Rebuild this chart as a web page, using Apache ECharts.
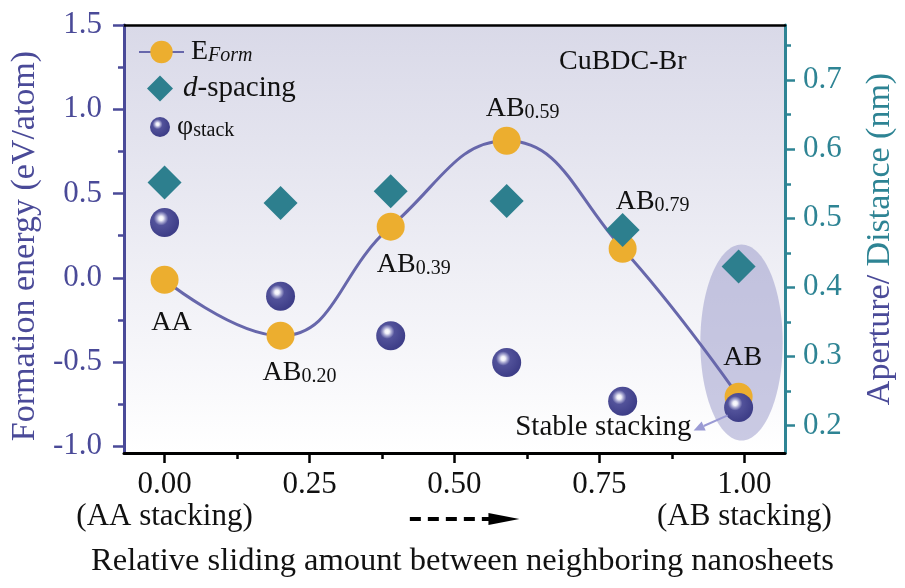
<!DOCTYPE html>
<html><head><meta charset="utf-8">
<script src="https://cdn.jsdelivr.net/npm/echarts@6/dist/echarts.min.js"></script>
<style>html,body{margin:0;padding:0;background:#fff}#c{width:905px;height:588px}</style>
</head><body><div id="c"></div>
<script>
// ---------- data ----------
const slide = [0, 0.20, 0.39, 0.59, 0.79, 0.99];
const eForm = [-0.012, -0.344, 0.303, 0.813, 0.172, -0.706];
const dSpacing = [0.552, 0.522, 0.539, 0.525, 0.483, 0.430];
const phiStack = [0.494, 0.387, 0.330, 0.291, 0.235, 0.226];
const pointNames = ['AA', 'AB|0.20', 'AB|0.39', 'AB|0.59', 'AB|0.79', 'AB'];
const xTicks = [0, 0.25, 0.5, 0.75, 1];
const xMinor = [0.125, 0.375, 0.625, 0.875];
const xTickNotes = {0: '(AA stacking)', 1: '(AB stacking)'};
const leftTicks = [-1, -0.5, 0, 0.5, 1, 1.5];
const leftMinor = [-0.75, -0.25, 0.25, 0.75, 1.25];
const rightTicks = [0.2, 0.3, 0.4, 0.5, 0.6, 0.7];
const rightMinor = [0.25, 0.35, 0.45, 0.55, 0.65, 0.75];
const stableNote = 'Stable stacking';

// ---------- style ----------
const FONT = '"Liberation Serif", "Times New Roman", serif';
const C_LEFT = '#4a4a98', C_RIGHT = '#2e8494', C_ORANGE = '#ecae2f', C_TEAL = '#2d7f8e', C_LINE = '#6767ab';
const labelOffsets = [[7, 42], [19, 36], [23, 37], [16, -33], [30, -48], [4, -40]];
const richLbl = {
  m: {fontSize: 28, fontFamily: FONT, color: '#111', lineHeight: 30, verticalAlign: 'bottom'},
  s: {fontSize: 20, fontFamily: FONT, color: '#111', lineHeight: 14, verticalAlign: 'bottom'}
};
const sphereColor = {type: 'radial', x: 0.38, y: 0.36, r: 0.62, colorStops: [
  {offset: 0, color: '#ffffff'}, {offset: 0.12, color: '#f0f0f8'}, {offset: 0.24, color: '#a6a6d0'},
  {offset: 0.4, color: '#52529a'}, {offset: 1, color: '#3e3e88'}]};

const lineData = slide.map((x, i) => {
  const p = pointNames[i].split('|');
  return {
    value: [x, eForm[i]],
    label: {show: true, position: 'inside', offset: labelOffsets[i],
      formatter: p.length > 1 ? '{m|' + p[0] + '}{s|' + p[1] + '}' : '{m|' + p[0] + '}', rich: richLbl}
  };
});

const chart = echarts.init(document.getElementById('c'), null, {renderer: 'canvas'});
const XMIN = -0.07, XMAX = 1.07, LMIN = -1.04, LMAX = 1.5, RMIN = 0.16, RMAX = 0.78;
const noLine = {show: false, onZero: false};
const option = {
  animation: false,
  textStyle: {fontFamily: FONT},
  title: {text: 'CuBDC-Br', left: 554, top: 43, textStyle: {fontFamily: FONT, fontSize: 28, fontWeight: 'normal', color: '#111'}},
  grid: {left: 123, right: 115, top: 25, bottom: 135, show: true, borderWidth: 0,
    backgroundColor: {type: 'linear', x: 0, y: 0, x2: 0, y2: 1, colorStops: [{offset: 0, color: '#d9d9e8'}, {offset: 1, color: '#ffffff'}]}},
  legend: [
    {data: ['EForm'], left: 133, top: 33, itemWidth: 45, itemHeight: 28, selectedMode: false,
      formatter: () => '{m|E}{s|Form}',
      textStyle: {padding: [0, 0, 0, 2], rich: {m: {fontSize: 28, fontFamily: FONT, color: '#111', lineHeight: 28, verticalAlign: 'bottom'}, s: {fontSize: 20, fontStyle: 'italic', fontFamily: FONT, color: '#111', lineHeight: 12, verticalAlign: 'bottom'}}}},
    {data: ['dspacing'], left: 142, top: 69, itemWidth: 26, itemHeight: 26, selectedMode: false,
      formatter: () => '{i|d}{m|-spacing}',
      textStyle: {padding: [0, 0, 0, 5], rich: {i: {fontSize: 29, fontStyle: 'italic', fontFamily: FONT, color: '#111'}, m: {fontSize: 29, fontFamily: FONT, color: '#111'}}}},
    {data: ['phistack'], left: 145, top: 108, itemWidth: 20, itemHeight: 20, selectedMode: false,
      formatter: () => '{m|φ}{s|stack}',
      textStyle: {padding: [0, 0, 0, 2], rich: {m: {fontSize: 28, fontFamily: FONT, color: '#111', lineHeight: 28, verticalAlign: 'bottom'}, s: {fontSize: 20, fontFamily: FONT, color: '#111', lineHeight: 12, verticalAlign: 'bottom'}}}}
  ],
  xAxis: [
    {type: 'value', min: XMIN, max: XMAX, position: 'bottom',
      axisLine: {show: true, onZero: false, lineStyle: {color: '#000', width: 3}},
      axisTick: {show: true, customValues: xTicks, length: 10, lineStyle: {color: '#000', width: 2.5}},
      axisLabel: {customValues: xTicks, margin: 16, fontSize: 31, lineHeight: 32, color: '#111', fontFamily: FONT,
        formatter: v => v.toFixed(2) + (xTickNotes[v] ? '\n' + xTickNotes[v] : '')},
      splitLine: {show: false},
      name: 'Relative sliding amount between neighboring nanosheets', nameLocation: 'middle', nameGap: 92,
      nameTextStyle: {fontSize: 32.5, color: '#111', fontFamily: FONT, padding: [0, 0, 0, 16]}},
    {type: 'value', min: XMIN, max: XMAX, position: 'bottom',
      axisLine: noLine, axisLabel: {show: false}, splitLine: {show: false},
      axisTick: {show: true, customValues: xMinor, length: 6, lineStyle: {color: '#000', width: 2.5}}},
    {type: 'value', min: XMIN, max: XMAX, position: 'top',
      axisLine: {show: true, onZero: false, lineStyle: {color: '#000', width: 2.5}},
      axisTick: {show: false}, axisLabel: {show: false}, splitLine: {show: false}}
  ],
  yAxis: [
    {type: 'value', min: LMIN, max: LMAX, position: 'left',
      axisLine: {show: true, onZero: false, lineStyle: {color: C_LEFT, width: 3}},
      axisTick: {show: true, customValues: leftTicks, length: 11, lineStyle: {color: C_LEFT, width: 2.5}},
      axisLabel: {customValues: leftTicks, margin: 22, fontSize: 31, color: C_LEFT, fontFamily: FONT, formatter: v => v.toFixed(1)},
      splitLine: {show: false},
      name: 'Formation energy (eV/atom)', nameLocation: 'middle', nameGap: 78,
      nameTextStyle: {fontSize: 34, color: C_LEFT, fontFamily: FONT, padding: [0, 14, 0, 0]}},
    {type: 'value', min: LMIN, max: LMAX, position: 'left',
      axisLine: noLine, axisLabel: {show: false}, splitLine: {show: false},
      axisTick: {show: true, customValues: leftMinor, length: 6, lineStyle: {color: C_LEFT, width: 2.5}}},
    {type: 'value', min: RMIN, max: RMAX, position: 'right',
      axisLine: {show: true, onZero: false, lineStyle: {color: C_RIGHT, width: 3}},
      axisTick: {show: true, customValues: rightTicks, length: 10, lineStyle: {color: C_RIGHT, width: 2.5}},
      axisLabel: {customValues: rightTicks, margin: 18, fontSize: 31, color: C_RIGHT, fontFamily: FONT, formatter: v => v.toFixed(1)},
      splitLine: {show: false},
      name: '{a|Aperture/ }{b|Distance (nm)}', nameLocation: 'middle', nameGap: 78,
      nameTextStyle: {fontSize: 34, fontFamily: FONT, rich: {a: {color: C_LEFT, fontSize: 34, fontFamily: FONT}, b: {color: C_RIGHT, fontSize: 34, fontFamily: FONT}}}},
    {type: 'value', min: RMIN, max: RMAX, position: 'right',
      axisLine: noLine, axisLabel: {show: false}, splitLine: {show: false},
      axisTick: {show: true, customValues: rightMinor, length: 6, lineStyle: {color: C_RIGHT, width: 2.5}}}
  ],
  series: [
    {name: 'EForm', type: 'line', xAxisIndex: 0, yAxisIndex: 0, data: lineData, smooth: 0.45,
      symbol: 'circle', symbolSize: 28, itemStyle: {color: C_ORANGE, opacity: 1}, lineStyle: {color: C_LINE, width: 3}, z: 3},
    {name: 'dspacing', type: 'scatter', xAxisIndex: 0, yAxisIndex: 2, data: slide.map((x, i) => [x, dSpacing[i]]),
      symbol: 'diamond', symbolSize: 34, itemStyle: {color: C_TEAL, opacity: 1}, z: 4},
    {name: 'phistack', type: 'scatter', xAxisIndex: 0, yAxisIndex: 2, data: slide.map((x, i) => [x, phiStack[i]]),
      symbol: 'circle', symbolSize: 29, itemStyle: {color: sphereColor, opacity: 1}, z: 5}
  ]
};
chart.setOption(option);

// ---------- annotations positioned through the axes ----------
const toR = (x, y) => chart.convertToPixel({xAxisIndex: 0, yAxisIndex: 2}, [x, y]);
const toL = (x, y) => chart.convertToPixel({xAxisIndex: 0, yAxisIndex: 0}, [x, y]);
const ellC = toR(0.995, 0.32), ellE = toR(0.995 + 0.071, 0.32 + 0.142);
const ab = toR(slide[5], phiStack[5]);
const axisY = toL(0, LMIN)[1];
const arrowX0 = toL(0.423, 0)[0], arrowX1 = toL(0.612, 0)[0];
const ay = axisY + 66;
const tip = [ab[0] - 45, ab[1] + 23], from = [ab[0] - 11, ab[1] + 8];
const ang = Math.atan2(tip[1] - from[1], tip[0] - from[0]);
const hl = 11, hw = 5;
const back = [tip[0] - hl * Math.cos(ang), tip[1] - hl * Math.sin(ang)];
const nx = -Math.sin(ang), ny = Math.cos(ang);
chart.setOption({graphic: [
  {type: 'ellipse', z: 1, silent: true, shape: {cx: ellC[0], cy: ellC[1], rx: ellE[0] - ellC[0], ry: ellC[1] - ellE[1]},
    style: {fill: 'rgba(150,150,200,0.5)'}},
  {type: 'line', z: 6, silent: true, shape: {x1: from[0], y1: from[1], x2: back[0], y2: back[1]}, style: {stroke: '#9a9ad4', lineWidth: 2}},
  {type: 'polygon', z: 6, silent: true, shape: {points: [tip, [back[0] + nx * hw, back[1] + ny * hw], [back[0] - nx * hw, back[1] - ny * hw]]}, style: {fill: '#9a9ad4'}},
  {type: 'text', z: 6, silent: true, x: ab[0] - 47, y: ab[1] + 20,
    style: {text: stableNote, fontSize: 29, fontFamily: FONT, fill: '#111', align: 'right', verticalAlign: 'middle'}},
  {type: 'line', z: 6, silent: true, shape: {x1: arrowX0, y1: ay, x2: arrowX1 - 30, y2: ay}, style: {stroke: '#000', lineWidth: 4, lineDash: [11, 7]}},
  {type: 'polygon', z: 6, silent: true, shape: {points: [[arrowX1, ay], [arrowX1 - 31, ay - 6], [arrowX1 - 31, ay + 6]]}, style: {fill: '#000'}}
]});
</script></body></html>
